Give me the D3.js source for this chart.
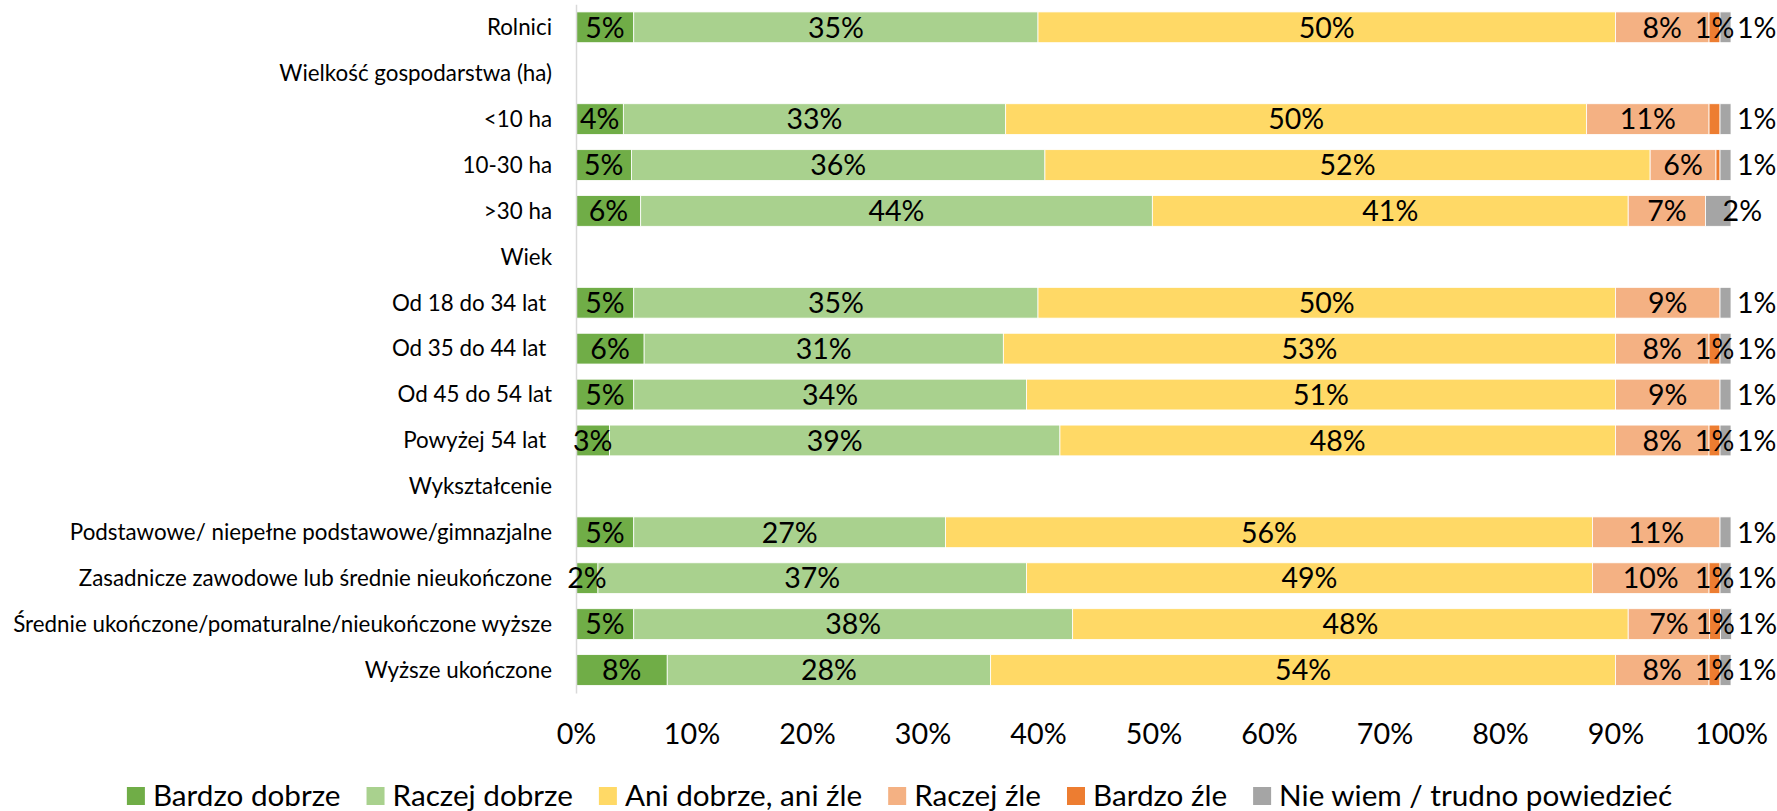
<!DOCTYPE html>
<html>
<head>
<meta charset="utf-8">
<script src="https://cdn.jsdelivr.net/npm/d3@7/dist/d3.min.js"></script>
<style>
  html, body { margin: 0; padding: 0; background: #fff; }
  svg { display: block; }
  text { font-family: Lato, "Open Sans", sans-serif; fill: #000; white-space: pre; }
</style>
</head>
<body>
<svg id="chart" width="1777" height="811"></svg>
<script>
// ---------- DATA ----------
const categories = [
  "Rolnici",
  "Wielkość gospodarstwa (ha)",
  "<10 ha",
  "10-30 ha",
  ">30 ha",
  "Wiek",
  "Od 18 do 34 lat ",
  "Od 35 do 44 lat ",
  "Od 45 do 54 lat",
  "Powyżej 54 lat ",
  "Wykształcenie",
  "Podstawowe/ niepełne podstawowe/gimnazjalne",
  "Zasadnicze zawodowe lub średnie nieukończone",
  "Średnie ukończone/pomaturalne/nieukończone wyższe",
  "Wyższe ukończone"
];
const seriesNames = ["Bardzo dobrze", "Raczej dobrze", "Ani dobrze, ani źle", "Raczej źle", "Bardzo źle", "Nie wiem / trudno powiedzieć"];
const seriesColors = ["#70AD47", "#A9D18E", "#FFD966", "#F4B183", "#ED7D31", "#A5A5A5"];

const bardzoDobrze = [5.0, null, 4.1, 4.8, 5.6, null, 5.0, 5.9, 5.0, 2.9, null, 5.0, 1.9, 5.0, 7.9];
const raczejDobrze = [35.0, null, 33.1, 35.8, 44.3, null, 35.0, 31.1, 34.0, 39.0, null, 27.0, 37.1, 38.0, 28.0];
const aniDobrzeAniZle = [50.0, null, 50.3, 52.4, 41.2, null, 50.0, 53.0, 51.0, 48.1, null, 56.0, 49.0, 48.1, 54.1];
const raczejZle = [8.1, null, 10.6, 5.7, 6.7, null, 9.05, 8.1, 9.05, 8.1, null, 11.05, 10.1, 7.05, 8.1];
const bardzoZle = [0.95, null, 0.95, 0.35, 0, null, 0, 0.95, 0, 0.95, null, 0, 0.95, 0.95, 0.95];
const nieWiem = [0.95, null, 0.95, 0.95, 2.2, null, 0.95, 0.95, 0.95, 0.95, null, 0.95, 0.95, 0.95, 0.95];

const hiddenLabels = [["<10 ha", "Bardzo źle"]];
const xTicks = [0, 10, 20, 30, 40, 50, 60, 70, 80, 90, 100];

const seriesValues = [bardzoDobrze, raczejDobrze, aniDobrzeAniZle, raczejZle, bardzoZle, nieWiem];

// ---------- HELPERS ----------
const svg = d3.select("#chart");
function fitSize(strings, target) {
  const t = svg.append("g");
  let total = 0;
  strings.forEach(s => {
    const n = t.append("text").attr("font-size", 100).attr("xml:space", "preserve").text(s);
    total += n.node().getComputedTextLength();
  });
  t.remove();
  return 100 * target / total;
}
const catFont = fitSize(["Średnie ukończone/pomaturalne/nieukończone wyższe"], 539);
const valFont = fitSize(["35%"], 56);
const tickFont = fitSize(["100%"], 73);
const legFont = fitSize(seriesNames, 1260);

// ---------- SCALES ----------
const x = d3.scaleLinear().domain([0, 100]).range([576, 1731]);
const y = d3.scaleBand().domain(categories).range([4.35, 692.95]).paddingInner(0.33).paddingOuter(0.165);

// ---------- STACK ----------
const rows = categories.map((c, i) => {
  const r = { category: c };
  seriesNames.forEach((s, j) => r[s] = seriesValues[j][i] || 0);
  return r;
});
const stacked = d3.stack().keys(seriesNames)(rows);

// bars
const gBars = svg.append("g");
stacked.forEach((layer, j) => {
  gBars.selectAll(null)
    .data(layer.filter(d => d[1] - d[0] > 0))
    .join("rect")
    .attr("x", d => x(d[0]))
    .attr("y", d => y(d.data.category))
    .attr("width", d => x(d[1]) - x(d[0]))
    .attr("height", y.bandwidth())
    .attr("fill", seriesColors[j])
    .attr("stroke", "#ffffff")
    .attr("stroke-width", 0.8);
});

// y axis
const yAxis = d3.axisLeft(y).tickSize(0).tickPadding(24).tickSizeOuter(0);
const gy = svg.append("g").attr("transform", `translate(${x(0)},0)`).call(yAxis);
gy.select(".domain").attr("stroke", "#D9D9D9").attr("stroke-width", 1.5);
gy.selectAll(".tick text")
  .attr("font-size", catFont)
  .attr("font-family", "Lato, sans-serif")
  .attr("fill", "#000")
  .attr("xml:space", "preserve")
  .attr("dy", "0.35em");

// data labels
const gLab = svg.append("g");
stacked.forEach((layer, j) => {
  const name = seriesNames[j];
  gLab.selectAll(null)
    .data(layer.filter(d => Math.round(d[1] - d[0]) > 0 &&
      !hiddenLabels.some(h => h[0] === d.data.category && h[1] === name)))
    .join("text")
    .attr("x", d => j === 5 ? x(d[0]) + 17 : (x(d[0]) + x(d[1])) / 2)
    .attr("y", d => y(d.data.category) + y.bandwidth() / 2)
    .attr("dy", "0.36em")
    .attr("text-anchor", j === 5 ? "start" : "middle")
    .attr("font-size", valFont)
    .text(d => Math.round(d[1] - d[0]) + "%");
});

// x axis
const xAxis = d3.axisBottom(x).tickValues(xTicks).tickFormat(d => d + "%").tickSize(0).tickPadding(0);
const gx = svg.append("g").attr("transform", "translate(0,744)").call(xAxis);
gx.select(".domain").remove();
gx.selectAll(".tick text")
  .attr("y", 0).attr("dy", 0)
  .attr("font-size", tickFont)
  .attr("font-family", "Lato, sans-serif")
  .attr("fill", "#000");

// legend
const legend = svg.append("g");
const sw = 18, gapIn = 8, gapOut = 26, legY = 796;
let cx = 0;
seriesNames.forEach((s, j) => {
  const g = legend.append("g");
  g.append("rect").attr("x", 0).attr("y", legY - sw / 2).attr("width", sw).attr("height", sw).attr("fill", seriesColors[j]);
  const t = g.append("text").attr("x", sw + gapIn).attr("y", legY).attr("dy", "0.35em").attr("font-size", legFont).text(s);
  const w = sw + gapIn + t.node().getComputedTextLength();
  g.attr("transform", `translate(${cx},0)`);
  cx += w + gapOut;
});
const totalW = cx - gapOut;
legend.attr("transform", `translate(${899.5 - totalW / 2},0)`);
</script>
</body>
</html>
